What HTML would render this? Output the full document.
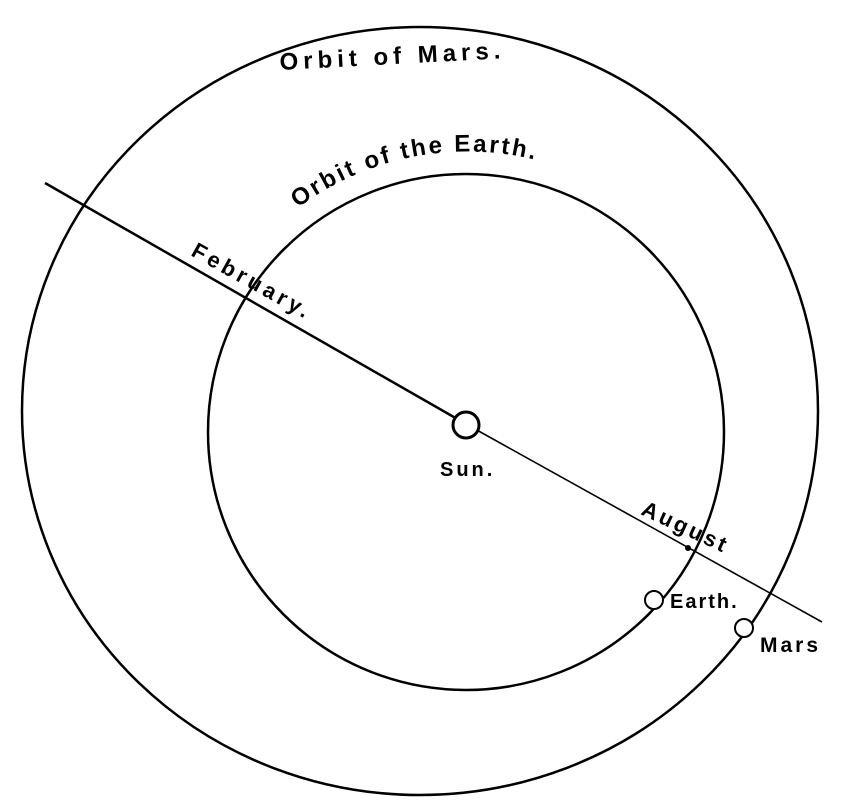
<!DOCTYPE html>
<html><head><meta charset="utf-8"><style>
html,body{margin:0;padding:0;background:#fff;width:844px;height:804px;overflow:hidden}
svg text{font-family:"Liberation Sans",sans-serif;fill:#000}
</style></head><body>
<svg width="844" height="804" viewBox="0 0 844 804">
<defs><path id="ea" d="M 298 208 A 282 282 0 0 1 580 175" fill="none"/></defs>
<ellipse cx="420" cy="411" rx="398" ry="384" fill="none" stroke="#000" stroke-width="2.5"/>
<circle cx="466" cy="432" r="258" fill="none" stroke="#000" stroke-width="2.5"/>
<line x1="45" y1="183" x2="466" y2="424" stroke="#000" stroke-width="2.5"/>
<line x1="466" y1="424" x2="822" y2="622" stroke="#000" stroke-width="1.6"/>
<circle cx="466" cy="425" r="13" fill="#fff" stroke="#000" stroke-width="3"/>
<circle cx="688" cy="548" r="3" fill="#000"/>
<circle cx="654" cy="600" r="9" fill="#fff" stroke="#000" stroke-width="2"/>
<circle cx="744" cy="628" r="9" fill="#fff" stroke="#000" stroke-width="2"/>
<text x="280" y="70" font-size="24" font-weight="bold" letter-spacing="5" transform="rotate(-3 280 70)">Orbit of Mars.</text>
<text font-size="24" font-weight="bold" letter-spacing="2.5"><textPath href="#ea">Orbit of the Earth.</textPath></text>
<text x="190" y="255" font-size="22" font-weight="bold" letter-spacing="4" transform="rotate(29 190 255)">February.</text>
<text x="440" y="476" font-size="20" font-weight="bold" letter-spacing="3">Sun.</text>
<text x="640" y="514" font-size="22" font-weight="bold" letter-spacing="3" transform="rotate(25 640 514)">August</text>
<text x="670" y="608" font-size="20" font-weight="bold" letter-spacing="2">Earth.</text>
<text x="760" y="652" font-size="21" font-weight="bold" letter-spacing="3">Mars</text>
</svg>
</body></html>
